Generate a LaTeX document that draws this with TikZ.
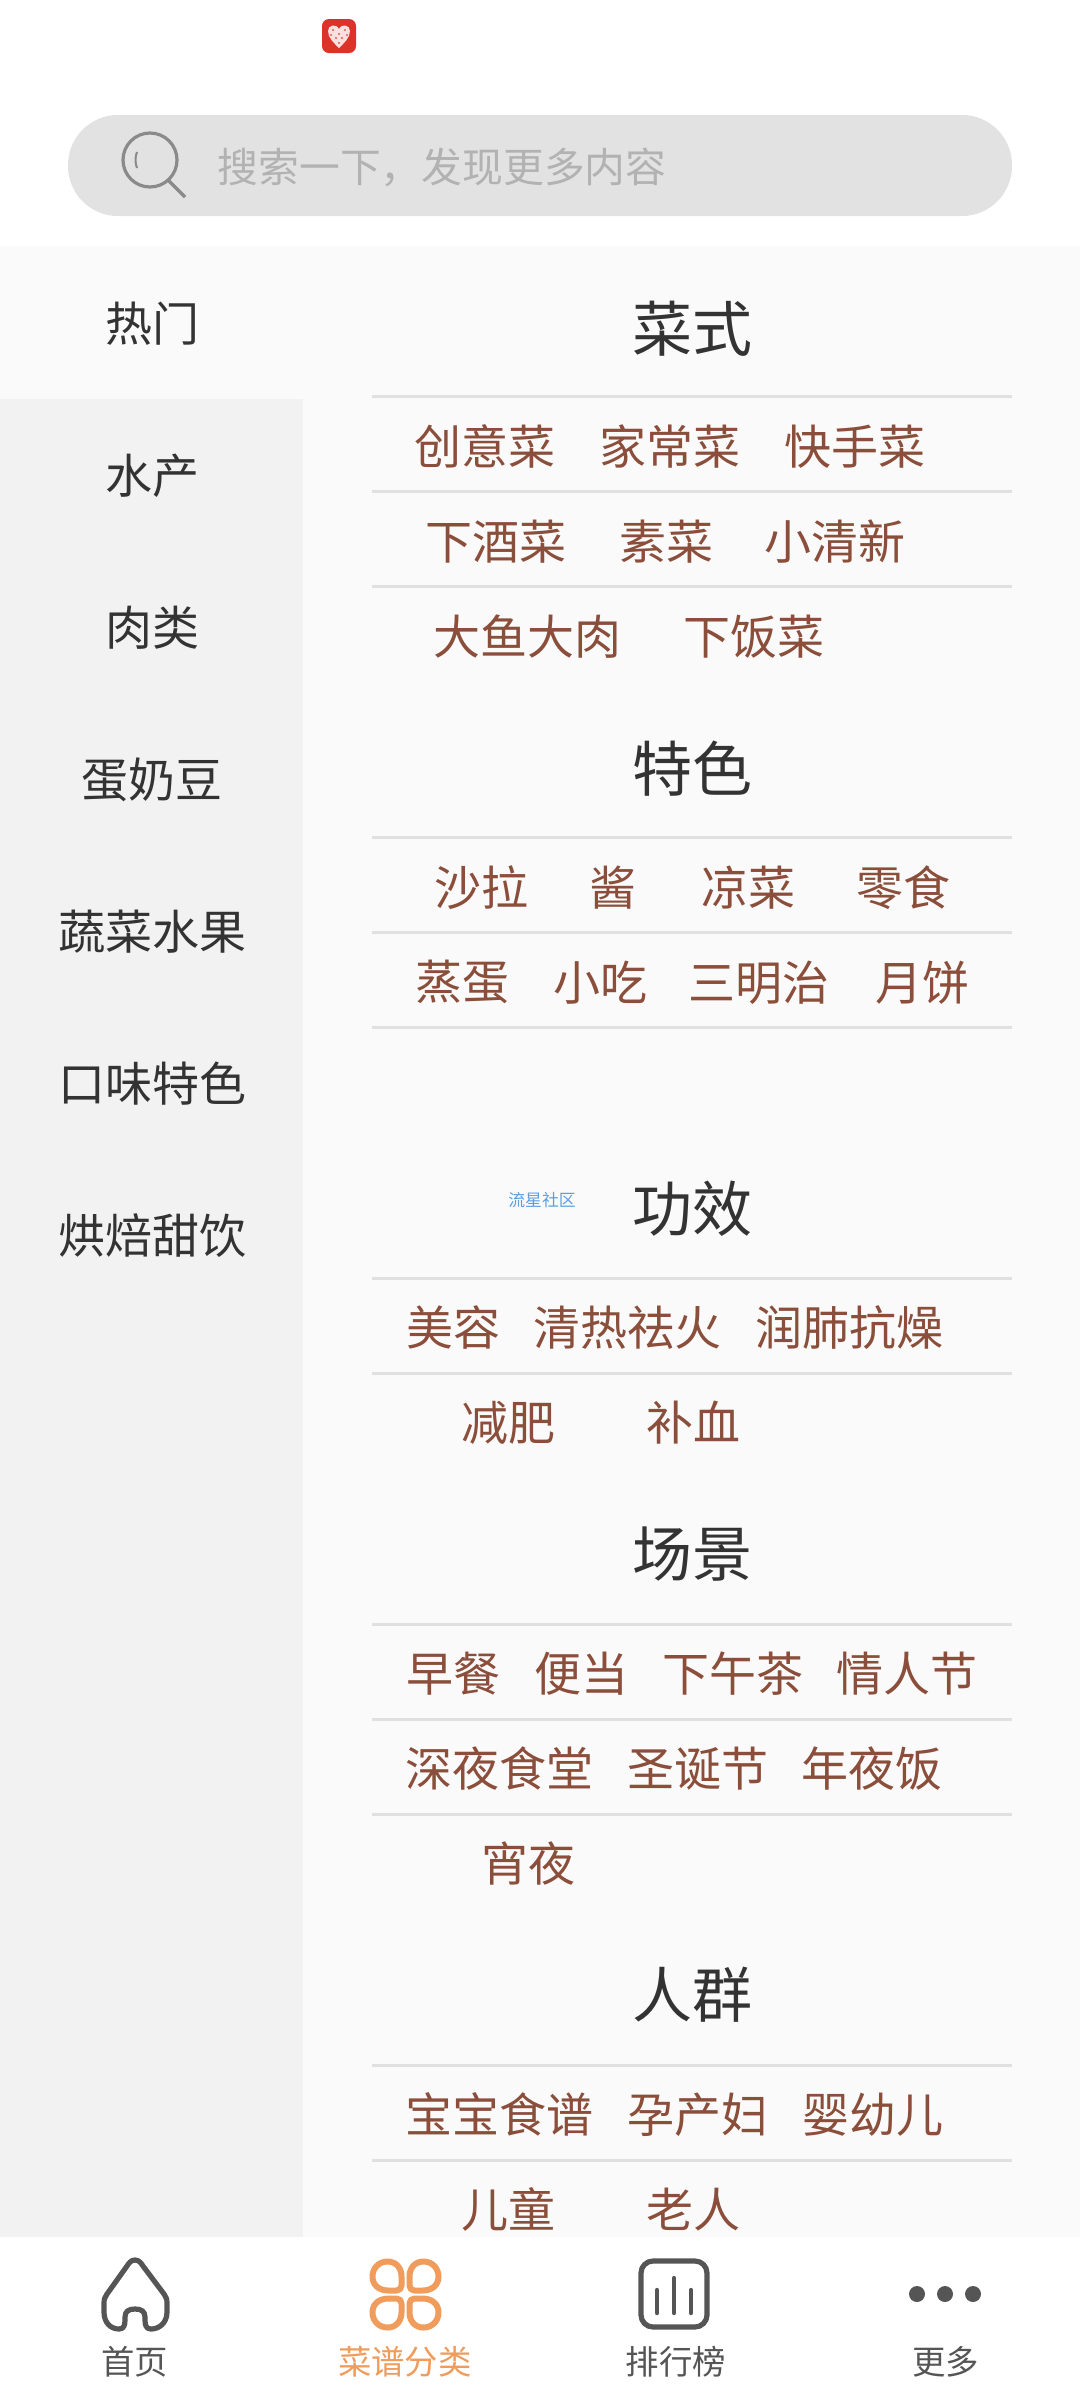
\documentclass[tikz,border=0pt]{standalone}
\usepackage{fontspec}
\setmainfont{Noto Sans CJK SC}
\definecolor{panelgray}{HTML}{FAFAFA}
\definecolor{sidegray}{HTML}{F2F2F2}
\definecolor{searchgray}{HTML}{E2E2E2}
\definecolor{hintgray}{HTML}{B2B2B2}
\definecolor{rulegray}{HTML}{E0E0E0}
\definecolor{dishbrown}{HTML}{8B4E3B}
\definecolor{darktext}{HTML}{333333}
\definecolor{icongray}{HTML}{555555}
\definecolor{lensgray}{HTML}{8A8A8A}
\definecolor{taborange}{HTML}{F09C5C}
\definecolor{logored}{HTML}{DC3228}
\definecolor{markblue}{HTML}{5B9FE0}
\tikzset{
	dish/.style = {inner sep=0pt, yshift=-0.7pt, text=dishbrown, font=\fontsize{23.5}{24}\selectfont},
	heading/.style = {inner sep=0pt, yshift=-0.7pt, text=darktext, font=\fontsize{30}{30}\selectfont},
	sidetab/.style = {inner sep=0pt, yshift=-0.5pt, text=darktext, font=\fontsize{23.5}{24}\selectfont},
	bottomtab/.style = {inner sep=0pt, xshift=0.4pt, text=icongray, font=\fontsize{16.7}{17}\selectfont},
	rowline/.style = {rulegray, line width=1.5pt},
	tabicon/.style = {icongray, line width=2.6pt, line cap=round, line join=round}
}
\begin{document}
\begin{tikzpicture}[x=0.5pt,y=-0.5pt,line join=round]
	\useasboundingbox (0,0) rectangle (1080,2400);
	\fill [white] (0,0) rectangle (1080,2400);
	% Flaechen
	\fill [panelgray] (0,246) rectangle (1080,2237);
	\fill [sidegray] (0,399) rectangle (303,2237);
	% Statusleiste
	\fill [logored, rounded corners=3.5pt] (322,19) rectangle (356,53);
	\fill [white!85!logored] (339,48) .. controls (334,43) and (328,38) .. (328,31) .. controls (328,25) and (336,23) .. (339,29) .. controls (342,23) and (350,25) .. (350,31) .. controls (350,38) and (344,43) .. (339,48) -- cycle;
	\foreach \dx/\dy in {333/30,339/34,345/30,336/38,342/38,339/43,331/35,347/35}
		\fill [logored!80!white] (\dx,\dy) circle (0.6pt);
	% Suchfeld
	\fill [searchgray, rounded corners=25pt] (68,115) rectangle (1012,216);
	\draw [lensgray, line width=1.6pt] (150,160) circle (13.5pt);
	\draw [lensgray, line width=1.6pt] (168,180) -- (185,197);
	\draw [lensgray, line width=1pt] (137,152) .. controls (135,157) and (135,163) .. (137,168);
	\node [inner sep=0pt, text=hintgray, font=\fontsize{20.4}{21}\selectfont] (search) at (442,167) {搜索一下，发现更多内容};
	% Seitenleiste
	\node [sidetab] (hot) at (152,323) {热门};
	\node [sidetab] (aquatic) at (152,475) {水产};
	\node [sidetab] (meat) at (152,627) {肉类};
	\node [sidetab] (eggs) at (152,779) {蛋奶豆};
	\node [sidetab] (greens) at (152,931) {蔬菜水果};
	\node [sidetab] (flavour) at (152,1083) {口味特色};
	\node [sidetab] (baking) at (152,1235) {烘焙甜饮};
	% Trennlinien
	\foreach \ly in {396.5,491.5,586,837,932,1027,1278,1373,1624,1719,1814,2065,2160}
		\draw [rowline] (372,\ly) -- (1012,\ly);
	% Ueberschriften
	\node [heading] (style) at (692,327) {菜式};
	\node [heading] (special) at (692,767) {特色};
	\node [heading] (effect) at (692,1207) {功效};
	\node [heading] (scene) at (692,1553) {场景};
	\node [heading] (people) at (692,1993) {人群};
	\node [inner sep=0pt, text=markblue, font=\fontsize{8.4}{9}\selectfont] (mark) at (542,1200) {流星社区};
	% Gerichte
	\node [dish] (a1) at (485,445) {创意菜}; \node [dish] (a2) at (670,445) {家常菜}; \node [dish] (a3) at (855,445) {快手菜};
	\node [dish] (b1) at (496,540) {下酒菜}; \node [dish] (b2) at (666,540) {素菜}; \node [dish] (b3) at (835,540) {小清新};
	\node [dish] (c1) at (527,635) {大鱼大肉}; \node [dish] (c2) at (754,635) {下饭菜};
	\node [dish] (d1) at (481,886) {沙拉}; \node [dish] (d2) at (613,886) {酱}; \node [dish] (d3) at (748,886) {凉菜}; \node [dish] (d4) at (903,886) {零食};
	\node [dish] (e1) at (462,981) {蒸蛋}; \node [dish] (e2) at (600,981) {小吃}; \node [dish] (e3) at (759,981) {三明治}; \node [dish] (e4) at (922,981) {月饼};
	\node [dish] (f1) at (453,1326) {美容}; \node [dish] (f2) at (627,1326) {清热祛火}; \node [dish] (f3) at (849,1326) {润肺抗燥};
	\node [dish] (g1) at (508,1421) {减肥}; \node [dish] (g2) at (693,1421) {补血};
	\node [dish] (h1) at (453,1672) {早餐}; \node [dish] (h2) at (581,1672) {便当}; \node [dish] (h3) at (733,1672) {下午茶}; \node [dish] (h4) at (907,1672) {情人节};
	\node [dish] (i1) at (499,1767) {深夜食堂}; \node [dish] (i2) at (698,1767) {圣诞节}; \node [dish] (i3) at (872,1767) {年夜饭};
	\node [dish] (j1) at (528,1862) {宵夜};
	\node [dish] (k1) at (499,2113) {宝宝食谱}; \node [dish] (k2) at (698,2113) {孕产妇}; \node [dish] (k3) at (873,2113) {婴幼儿};
	\node [dish] (l1) at (508,2208) {儿童}; \node [dish] (l2) at (693,2208) {老人};
	% Navigationsleiste
	\fill [white] (0,2237) rectangle (1080,2400);
	\draw [tabicon] (135,2260) .. controls (131,2260) and (129,2263) .. (127,2266) -- (107,2294) .. controls (105,2297) and (104,2299) .. (104,2303) -- (104,2312) .. controls (104,2323) and (111,2329) .. (119,2329) .. controls (124,2329) and (125,2325) .. (125,2320) -- (125,2317) .. controls (125,2311) and (129,2309) .. (135,2309) .. controls (141,2309) and (145,2311) .. (145,2317) -- (145,2320) .. controls (145,2325) and (146,2329) .. (151,2329) .. controls (159,2329) and (167,2323) .. (167,2312) -- (167,2303) .. controls (167,2299) and (166,2297) .. (164,2294) -- (143,2266) .. controls (141,2263) and (139,2260) .. (135,2260) -- cycle;
	\foreach \sx/\sy in {1/1,-1/1,1/-1,-1/-1} {
		\begin{scope}[shift={(405.5,2294.5)},xscale=\sx,yscale=\sy]
			\draw [tabicon, taborange, line width=3pt] (-18,-33) .. controls (-27,-33) and (-33,-26) .. (-33,-18) .. controls (-33,-9) and (-26,-4) .. (-17,-4) -- (-9,-4) .. controls (-6,-4) and (-4,-6) .. (-4,-9) -- (-4,-18) .. controls (-4,-26) and (-9,-33) .. (-18,-33) -- cycle;
		\end{scope}
	}
	\draw [tabicon, rounded corners=6pt] (641,2261) rectangle (707,2327);
	\draw [tabicon, line width=2.2pt] (657,2290) -- (657,2313);
	\draw [tabicon, line width=2.2pt] (674,2278) -- (674,2313);
	\draw [tabicon, line width=2.2pt] (691,2290) -- (691,2313);
	\fill [icongray] (917,2294) circle (4pt) (945,2294) circle (4pt) (973,2294) circle (4pt);
	\node [bottomtab] (home) at (134,2362) {首页};
	\node [bottomtab, text=taborange] (recipes) at (404,2362) {菜谱分类};
	\node [bottomtab] (ranking) at (675,2362) {排行榜};
	\node [bottomtab] (more) at (945,2362) {更多};
\end{tikzpicture}
\end{document}
